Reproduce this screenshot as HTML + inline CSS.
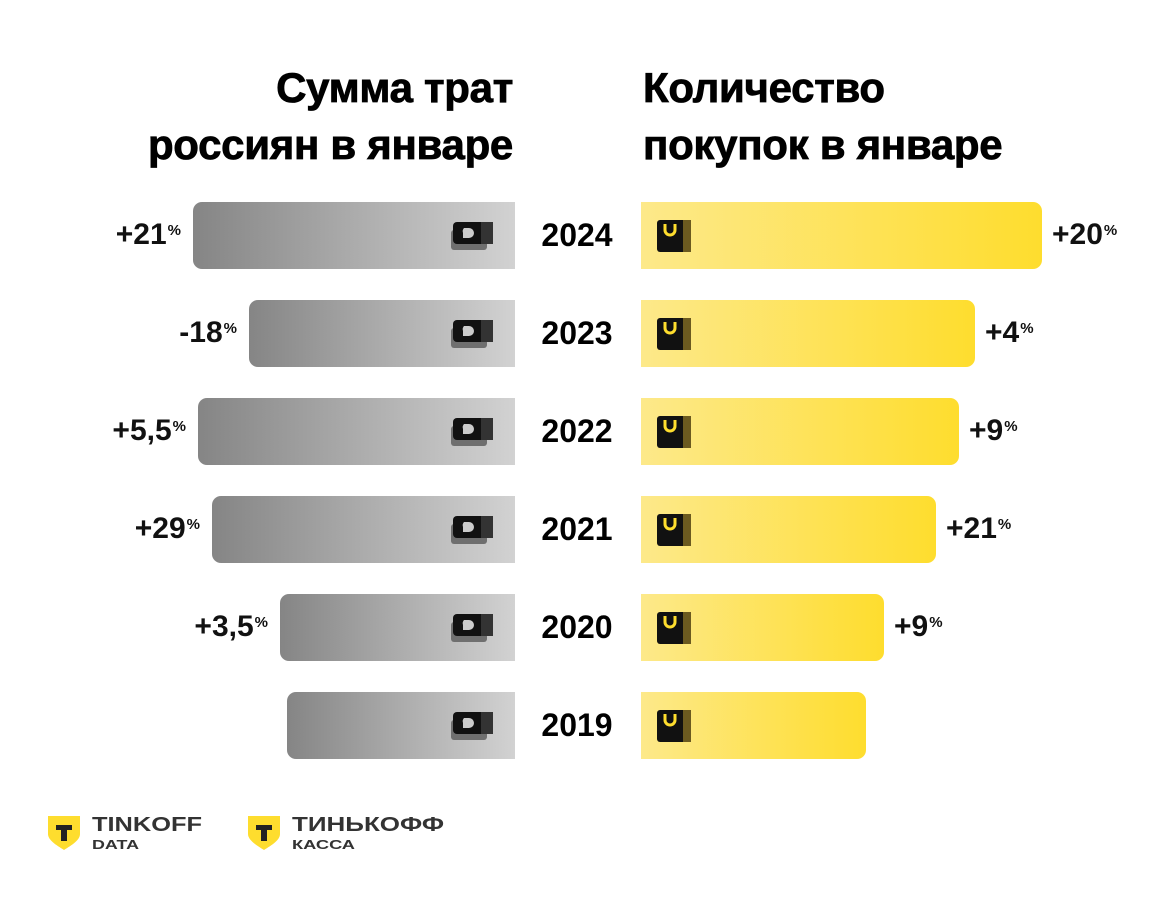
<!DOCTYPE html>
<html><head><meta charset="utf-8"><style>
body{margin:0;background:#fff;width:1158px;height:900px;overflow:hidden;font-family:"Liberation Sans","DejaVu Sans",sans-serif;}
#root{position:relative;width:1158px;height:900px;}
.t{position:absolute;font-weight:bold;font-size:42px;line-height:57px;color:#000;letter-spacing:-0.3px;-webkit-text-stroke:0.8px #000}
.lbl{position:absolute;font-weight:bold;font-size:30px;color:#111;line-height:34px;white-space:nowrap}
.lbl sup{font-size:15px;vertical-align:top;position:relative;top:-4px;margin-left:1px}
.yr{position:absolute;width:120px;text-align:center;font-weight:bold;font-size:32px;left:517px;line-height:34px}
.bar{position:absolute;height:67px}
.lb{background:linear-gradient(90deg,#858585,#d2d2d2);border-radius:9px 0 0 9px}
.rb{background:linear-gradient(90deg,#fde98a,#fedd2e);border-radius:0 9px 9px 0}
</style></head><body><div id="root">
<div class="t" style="right:645px;top:59px;text-align:right">Сумма трат<br>россиян в январе</div>
<div class="t" style="left:643px;top:59px">Количество<br>покупок в январе</div>
<div id="rows"></div>
<svg style="position:absolute;left:46px;top:814px" width="420" height="40">
<path d="M2 2h32v18c0 6-8 11-16 16C10 31 2 26 2 20z" fill="#fedd2e"/>
<path d="M10 11h16v5h-5v11h-6V16h-5z" fill="#222"/>
<text x="46" y="17" font-family="Liberation Sans" font-weight="bold" font-size="20" fill="#333" textLength="110" lengthAdjust="spacingAndGlyphs">TINKOFF</text>
<text x="46" y="35" font-family="Liberation Sans" font-weight="bold" font-size="13" fill="#333" textLength="47" lengthAdjust="spacingAndGlyphs">DATA</text>
<path d="M202 2h32v18c0 6-8 11-16 16C210 31 202 26 202 20z" fill="#fedd2e"/>
<path d="M210 11h16v5h-5v11h-6V16h-5z" fill="#222"/>
<text x="246" y="17" font-family="Liberation Sans" font-weight="bold" font-size="20" fill="#333" textLength="152" lengthAdjust="spacingAndGlyphs">ТИНЬКОФФ</text>
<text x="246" y="35" font-family="Liberation Sans" font-weight="bold" font-size="13" fill="#333" textLength="63" lengthAdjust="spacingAndGlyphs">КАССА</text>
</svg>
</div>
<script>
const years=["2024","2023","2022","2021","2020","2019"];
const spendValues=[322,266,317,303,235,228];
const countValues=[401,334,318,295,243,225];
const spendLabels=["+21","-18","+5,5","+29","+3,5",""];
const countLabels=["+20","+4","+9","+21","+9",""];
const rowY=i=>202+i*98;
const scale=v=>v*1;
const root=document.getElementById('root');
years.forEach((y,i)=>{
 const top=rowY(i);
 const lw=scale(spendValues[i]);
 const lb=document.createElement('div');
 lb.className='bar lb';lb.style.left=(515-lw)+'px';lb.style.width=lw+'px';lb.style.top=top+'px';
 
 
 lb.innerHTML='<svg style="position:absolute;right:20px;top:20px" width="44" height="30"><rect x="0" y="8" width="36" height="20" rx="3" fill="#6f6f6f"/><rect x="2" y="0" width="40" height="22" rx="4" fill="#111"/><rect x="30" y="0" width="12" height="22" fill="#333"/><path d="M13 6h5a5 5 0 0 1 0 10h-6v-5a5 5 0 0 1 1-5z" fill="#ccc"/></svg>';
 root.appendChild(lb);
 const rw=scale(countValues[i]);
 const rb=document.createElement('div');
 rb.className='bar rb';rb.style.left='641px';rb.style.width=rw+'px';rb.style.top=top+'px';
 
 
 rb.innerHTML='<svg style="position:absolute;left:16px;top:18px" width="36" height="34"><rect x="0" y="0" width="34" height="32" rx="3" fill="#111"/><rect x="26" y="0" width="8" height="32" fill="#6b5a20"/><path d="M8 4v6a5 5 0 0 0 10 0V4" stroke="#fedd2e" stroke-width="3" fill="none"/></svg>';
 root.appendChild(rb);
 const yl=document.createElement('div');
 yl.className='yr';yl.style.top=(top+16)+'px';yl.textContent=y;
 
 
 root.appendChild(yl);
 if(spendLabels[i]){
  const l=document.createElement('div');
  l.className='lbl';l.style.right=(1158-(515-lw)+12)+'px';l.style.top=(top+16)+'px';
  l.innerHTML=spendLabels[i]+'<sup>%</sup>';
  
  
  root.appendChild(l);
 }
 if(countLabels[i]){
  const l=document.createElement('div');
  l.className='lbl';l.style.left=(641+rw+10)+'px';l.style.top=(top+16)+'px';
  l.innerHTML=countLabels[i]+'<sup>%</sup>';
  
  
  root.appendChild(l);
 }
});
</script></body></html>
